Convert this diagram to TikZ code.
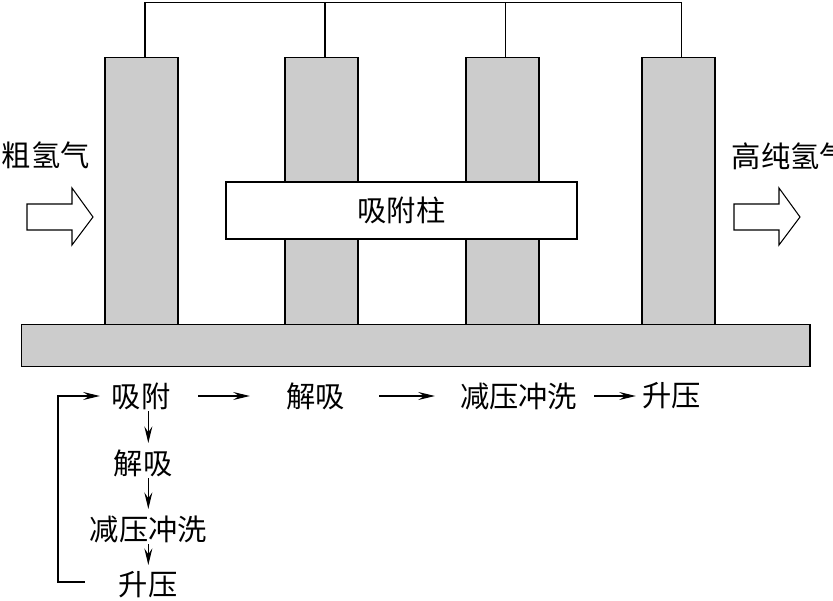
\documentclass[tikz,border=0pt]{standalone}
\usepackage{fontspec}
\newfontfamily\cjk{Noto Sans CJK SC}
\usetikzlibrary{arrows.meta, positioning}
\tikzstyle{column} = [rectangle, draw, line width=1.5pt, fill=gray!40,
minimum width=2.2cm, minimum height=8.03cm, inner sep=0pt]
\tikzstyle{pipe} = [line width=0.9pt]
\tikzstyle{txt} = [font=\cjk\fontsize{25}{30}\selectfont, inner sep=0pt]
\tikzstyle{flow} = [line width=0.9pt, -{Stealth[length=5mm, width=2.4mm, inset=1.8mm]}]
\tikzstyle{vflow} = [flow, shorten <=0.45cm, shorten >=0.6cm]
\tikzstyle{blockarrow} = [line width=0.9pt, fill=white]

\begin{document}
\begin{tikzpicture}
    \useasboundingbox (0,0) rectangle (24.99,18);
    % columns
    \node[column] (c1) at (4.25,12.26) {};
    \node[column] (c2) at (9.65,12.26) {};
    \node[column] (c3) at (15.07,12.26) {};
    \node[column] (c4) at (20.35,12.26) {};
    \draw[pipe] ([xshift=1mm]c1.north) -- ++(0,1.63) -| ([xshift=1mm]c4.north);
    \foreach \c in {c2,c3}
        \draw[pipe] ([xshift=1mm]\c.north) -- ++(0,1.63);

    % base and bed
    \node[column, minimum width=23.65cm, minimum height=1.26cm] (base) at (12.47,7.635) {};
    \node[txt, draw, fill=white, line width=1.5pt, minimum width=10.53cm,
        minimum height=1.7cm] (bed) at (12.045,11.69) {吸附柱};

    % feed and product
    \node[txt, anchor=east] (feed) at (2.7,13.35) {粗氢气};
    \node[txt, anchor=west] (product) at (21.95,13.3) {高纯氢气};
    \foreach \x in {0.81,22.02}
        \draw[blockarrow] (\x,11.1) -- ++(0,0.78) -- ++(1.35,0) -- ++(0,0.48)
            -- ++(0.63,-0.87) -- ++(-0.63,-0.84) -- ++(0,0.45) -- cycle;

    % cycle steps
    \node[txt] (a1) at (4.23,6.12) {吸附};
    \node[txt] (a2) at (9.47,6.12) {解吸};
    \node[txt] (a3) at (15.56,6.12) {减压冲洗};
    \node[txt] (a4) at (20.14,6.12) {升压};
    \draw[flow, shorten <=0.83cm, shorten >=1.09cm] (a1.east) -- (a2.west);
    \draw[flow, shorten <=1.02cm, shorten >=0.75cm] (a2.east) -- (a3.west);
    \draw[flow, shorten <=0.5cm, shorten >=0.18cm] (a3.east) -- (a4.west);

    \node[txt] (b2) at (4.29,4.11) {解吸};
    \node[txt] (b3) at (4.45,2.13) {减压冲洗};
    \node[txt] (b4) at (4.44,0.45) {升压};
    \draw[vflow] (a1.center -| b3.center) -- (b2.center -| b3.center);
    \draw[vflow] (b2.center -| b3.center) -- (b3.center);
    \draw[vflow] (b3.center) -- (b4.center -| b3.center);

    \coordinate (ret) at (1.74,0.54);
    \draw[flow, shorten >=0.35cm] (ret -| b4.west) ++(-1.01,0) -- (ret) |- (a1.west);
\end{tikzpicture}
\end{document}
